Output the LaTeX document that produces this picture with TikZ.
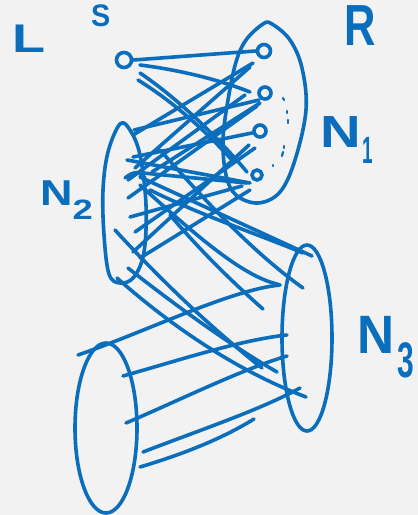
\documentclass[tikz,border=0pt]{standalone}
\usepackage{fontspec}
\setmainfont{Liberation Sans}
\definecolor{ink}{HTML}{0A6EBD}
\definecolor{paper}{HTML}{F2F2F2}
\begin{document}
\begin{tikzpicture}[x=1pt,y=-1pt,
  pen/.style={draw=ink,line width=3.6pt,line cap=round,line join=round},
  thin pen/.style={draw=ink,line width=2.2pt,line cap=round},
  vert/.style={circle,draw=ink,line width=3.6pt,inner sep=0pt,minimum size=13pt},
  lbl/.style={text=ink,inner sep=0pt,anchor=base west,text depth=0pt}]
\fill[paper] (0,0) rectangle (418,515);
\useasboundingbox (0,0) rectangle (418,515);

% labels
\node[lbl,font=\fontsize{40}{40}\selectfont\bfseries] (lL) at (12,52) {\scalebox{1.35}[1]{L}};
\node[lbl,font=\fontsize{24}{24}\selectfont\bfseries] (lS) at (91,26) {\scalebox{1.2}[1.3]{S}};
\node[lbl,font=\fontsize{58}{58}\selectfont\bfseries] (lR) at (344,45) {\scalebox{0.75}[1]{R}};
\node[lbl,font=\fontsize{45}{45}\selectfont\bfseries] (lN1) at (320,147) {\scalebox{1.25}[1]{N}\hspace{2pt}\raisebox{-16pt}{\fontsize{38}{38}\selectfont\scalebox{0.5}[1]{1}}};
\node[lbl,font=\fontsize{36}{36}\selectfont\bfseries] (lN2) at (40,205) {\scalebox{1.25}[1]{N}\hspace{0pt}\raisebox{-14pt}{\fontsize{28}{28}\selectfont\scalebox{1.3}[1]{2}}};
\node[lbl,font=\fontsize{54}{54}\selectfont\bfseries] (lN3) at (357,353) {\scalebox{0.95}[1]{N}\hspace{3pt}\raisebox{-24pt}{\fontsize{50}{50}\selectfont\scalebox{0.6}[1]{3}}};

% vertices
\node[vert,minimum size=15pt] (s) at (124,60) {};
\node[vert] (r1) at (264,51) {};
\node[vert,minimum size=12pt] (r2) at (265,93) {};
\node[vert,minimum size=12pt] (r3) at (260,131) {};
\node[vert,minimum size=10pt] (r4) at (257,175) {};

% dots
\draw[thin pen] (283,98) -- (284,100);
\draw[thin pen] (287,111) -- (287,113);
\draw[thin pen] (288,120) -- (288,123);
\draw[thin pen] (284,146) -- (284,148);
\draw[thin pen] (283,152) -- (282,156);
\draw[thin pen] (273,165) -- (273,166);

% N1 blob
\draw[pen] plot[smooth cycle,tension=0.6] coordinates {(263,24) (246,40) (236,62) (228,100) (223,140) (226,175) (236,195) (258,203) (280,192) (295,160) (306,110) (302,68) (290,40) (272,24)};
% N2 blob
\draw[pen] plot[smooth cycle,tension=0.6] coordinates {(120,124) (130,130) (140,155) (146,205) (144,252) (134,277) (120,283) (109,274) (104,235) (103,190) (108,152)};
% N3
\draw[pen] (307,338) ellipse [x radius=25, y radius=93];
% N4
\draw[pen] (106,428) ellipse [x radius=31, y radius=85];

% s to R
\draw[pen] (s.east) -- (r1.west);
\draw[pen] (140,65) .. controls (180,70) and (220,80) .. (250,92);
\draw[pen] (140,73) .. controls (180,100) and (220,140) .. (247,172);
\draw[pen] (138,80) .. controls (170,100) and (200,125) .. (232,160);

% R to N2 (down-left)
\draw[pen] (253,63) -- (133,135);
\draw[pen] (250,67) -- (135,168);
\draw[pen] (259,100) -- (134,130);
\draw[pen] (260,103) -- (152,172);
\draw[pen] (257,106) -- (128,198);
\draw[pen] (252,133) -- (133,157);
\draw[pen] (249,145) -- (133,252);
\draw[pen] (250,190) -- (140,258);
\draw[pen] (242,186) -- (130,217);
\draw[pen] (247,183) -- (143,173);
\draw[pen] (245,95) -- (128,180);
\draw[pen] (255,148) -- (135,232);

% N2 to R (down-right)
\draw[pen] (127,160) -- (250,183);
\draw[pen] (125,178) .. controls (135,170) and (140,172) .. (145,178);

% N2 to N3
\draw[pen] (115,230) .. controls (170,290) and (220,335) .. (262,368);
\draw[pen] (128,268) .. controls (175,305) and (230,345) .. (277,372);
\draw[pen] (117,278) .. controls (170,325) and (235,370) .. (306,397);
\draw[pen] (160,150) .. controls (205,200) and (250,250) .. (303,288);
\draw[pen] (140,185) .. controls (190,230) and (235,270) .. (270,282) -- (280,285);
\draw[pen] (140,177) -- (312,256);
\draw[pen] (170,215) .. controls (200,250) and (230,280) .. (263,309);
\draw[pen] (150,190) .. controls (200,215) and (260,235) .. (303,253);

% N4 to N3
\draw[pen] (78,355) .. controls (150,330) and (230,290) .. (280,285);
\draw[pen] (123,376) .. controls (180,360) and (240,340) .. (287,335);
\draw[pen] (126,423) .. controls (180,400) and (240,370) .. (287,356);
\draw[pen] (143,452) .. controls (200,430) and (260,410) .. (300,388);
\draw[pen] (140,467) .. controls (180,455) and (220,440) .. (254,419);
\end{tikzpicture}
\end{document}
